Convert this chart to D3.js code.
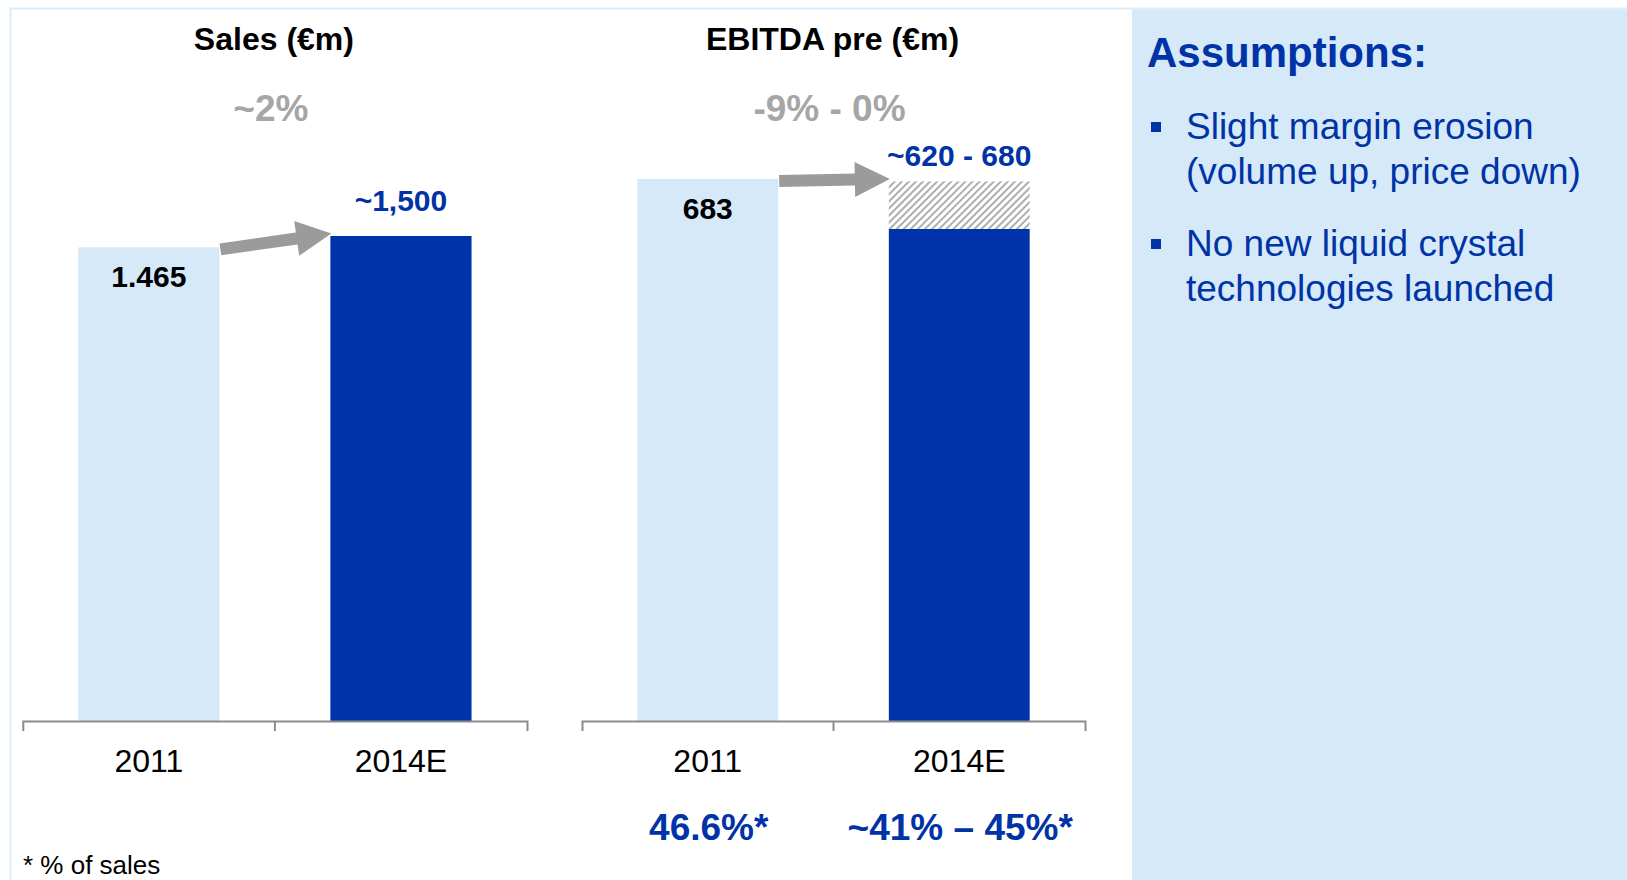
<!DOCTYPE html>
<html>
<head>
<meta charset="utf-8">
<script src="https://cdn.jsdelivr.net/npm/d3@7"></script>
<style>
  html, body { margin: 0; padding: 0; background: #ffffff; }
  svg { display: block; font-family: "Liberation Sans", Arial, Helvetica, sans-serif; }
</style>
</head>
<body>
<svg id="chart" width="1627" height="880"></svg>
<script>
// ---- data ----
const categories = ["2011", "2014E"];

const salesValues = [1465, 1500];
const salesLabels = ["1.465", "~1,500"];
const salesGrowth = "~2%";

const ebitdaValues = [683, 620];        // solid part
const ebitdaUpper = [null, 680];        // top of the forecast range
const ebitdaLabels = ["683", "~620 - 680"];
const ebitdaGrowth = "-9% - 0%";
const marginLabels = ["46.6%*", "~41% \u2013 45%*"];

const panelTitles = ["Sales (\u20acm)", "EBITDA pre (\u20acm)"];
const footnote = "* % of sales";

const assumptionsTitle = "Assumptions:";
const assumptionBullets = [
  ["Slight margin erosion", "(volume up, price down)"],
  ["No new liquid crystal", "technologies launched"]
];

// ---- styles ----
const LIGHT = "#d5e9f8";
const DARK = "#0033aa";
const TEXT_BLUE = "#0033a6";
const GREY_TEXT = "#a6a6a6";
const ARROW = "#9b9b9b";
const AXIS = "#8c8c8c";

const svg = d3.select("#chart");

// hatch pattern for the forecast range
const defs = svg.append("defs");
defs.append("pattern")
  .attr("id", "hatch")
  .attr("patternUnits", "userSpaceOnUse")
  .attr("width", 5)
  .attr("height", 10)
  .attr("patternTransform", "rotate(45)")
  .call(p => {
    p.append("rect").attr("width", 5).attr("height", 10).attr("fill", "#ffffff");
    p.append("line").attr("x1", 1).attr("x2", 1).attr("y1", 0).attr("y2", 10)
      .attr("stroke", "#9a9a9a").attr("stroke-width", 1.6);
  });

// frame and assumptions panel
svg.append("rect").attr("x", 10).attr("y", 7.5).attr("width", 1617).attr("height", 2).attr("fill", "#dcedfa");
svg.append("rect").attr("x", 9.5).attr("y", 7.5).attr("width", 2).attr("height", 872.5).attr("fill", "#dcedfa");
svg.append("rect").attr("x", 1132).attr("y", 9.5).attr("width", 495).attr("height", 870.5).attr("fill", LIGHT);

const axisY = 721;

function drawArrow(g, x0, y0, x1, y1) {
  const dx = x1 - x0, dy = y1 - y0;
  const L = Math.hypot(dx, dy);
  const ang = Math.atan2(dy, dx) * 180 / Math.PI;
  const hw = 6, headL = 35, headW = 17.5;
  const pts = [[0, -hw], [L - headL, -hw], [L - headL, -headW], [L, 0],
               [L - headL, headW], [L - headL, hw], [0, hw]];
  g.append("path")
    .attr("transform", `translate(${x0},${y0}) rotate(${ang})`)
    .attr("d", d3.line()(pts) + "Z")
    .attr("fill", ARROW);
}

function drawPanel(opts) {
  const g = svg.append("g");
  const x = d3.scaleBand().domain(categories).range(opts.xRange)
    .paddingInner(0.44).paddingOuter(0.22);
  const y = d3.scaleLinear().domain(opts.yDomain).range([axisY, opts.yTop]);
  const cx = d => x(d) + x.bandwidth() / 2;
  const mid = (opts.xRange[0] + opts.xRange[1]) / 2;

  // bars
  g.selectAll("rect.bar").data(categories).join("rect")
    .attr("class", "bar")
    .attr("x", d => x(d))
    .attr("width", x.bandwidth())
    .attr("y", (d, i) => y(opts.values[i]))
    .attr("height", (d, i) => axisY - y(opts.values[i]))
    .attr("fill", (d, i) => i === 0 ? LIGHT : DARK);

  // forecast range (hatched)
  if (opts.upper) {
    categories.forEach((d, i) => {
      if (opts.upper[i] == null) return;
      g.append("rect")
        .attr("x", x(d)).attr("width", x.bandwidth())
        .attr("y", y(opts.upper[i]))
        .attr("height", y(opts.values[i]) - y(opts.upper[i]))
        .attr("fill", "url(#hatch)");
    });
  }

  // axis
  const axis = d3.axisBottom(x).tickSize(0).tickSizeOuter(10).tickPadding(28);
  const ag = g.append("g").attr("transform", `translate(0,${axisY})`).call(axis);
  ag.select(".domain").attr("stroke", AXIS).attr("stroke-width", 2);
  ag.selectAll(".tick text").attr("font-size", 32).attr("fill", "#000")
    .attr("font-family", "'Liberation Sans', Arial, sans-serif");
  ag.append("line").attr("x1", mid).attr("x2", mid).attr("y1", 0).attr("y2", 10)
    .attr("stroke", AXIS).attr("stroke-width", 2);

  // title and growth label
  g.append("text").attr("x", mid - 1).attr("y", 50).attr("text-anchor", "middle")
    .attr("font-size", 32).attr("font-weight", "bold").attr("fill", "#000")
    .text(opts.title);
  g.append("text").attr("x", mid - 4).attr("y", 121).attr("text-anchor", "middle")
    .attr("font-size", 37).attr("font-weight", "bold").attr("fill", GREY_TEXT)
    .text(opts.growth);

  // value labels
  const top1 = y(opts.values[0]);
  const top2 = opts.upper && opts.upper[1] != null ? y(opts.upper[1]) : y(opts.values[1]);
  g.append("text").attr("x", cx(categories[0])).attr("y", top1 + 40)
    .attr("text-anchor", "middle").attr("font-size", 30).attr("font-weight", "bold")
    .attr("fill", "#000").text(opts.labels[0]);
  g.append("text").attr("x", cx(categories[1])).attr("y", top2 - opts.topLabelGap)
    .attr("text-anchor", "middle").attr("font-size", 30).attr("font-weight", "bold")
    .attr("fill", TEXT_BLUE).text(opts.labels[1]);

  // growth arrow between the bars
  drawArrow(g, x(categories[0]) + x.bandwidth() + 1, top1 + 2, x(categories[1]) + 1, top2 - 2.5);

  // margin labels under the axis
  if (opts.margins) {
    g.selectAll("text.margin").data(categories).join("text")
      .attr("class", "margin")
      .attr("x", d => cx(d) + 1).attr("y", 840).attr("text-anchor", "middle")
      .attr("font-size", 37).attr("font-weight", "bold").attr("fill", TEXT_BLUE)
      .text((d, i) => opts.margins[i]);
  }
}

drawPanel({
  xRange: [22.8, 527],
  yDomain: [0, 1500],
  yTop: 236,
  values: salesValues,
  labels: salesLabels,
  title: panelTitles[0],
  growth: salesGrowth,
  topLabelGap: 25
});

drawPanel({
  xRange: [582, 1085],
  yDomain: [0, 683],
  yTop: 179,
  values: ebitdaValues,
  upper: ebitdaUpper,
  labels: ebitdaLabels,
  title: panelTitles[1],
  growth: ebitdaGrowth,
  margins: marginLabels,
  topLabelGap: 15.5
});

// footnote
svg.append("text").attr("x", 23).attr("y", 874).attr("font-size", 26).attr("fill", "#000")
  .text(footnote);

// assumptions panel text
svg.append("text").attr("x", 1147).attr("y", 67).attr("font-size", 42).attr("font-weight", "bold")
  .attr("fill", TEXT_BLUE).text(assumptionsTitle);

const bulletTop = [139, 256];
assumptionBullets.forEach((lines, i) => {
  svg.append("rect").attr("x", 1151).attr("y", bulletTop[i] - 17).attr("width", 10).attr("height", 10)
    .attr("fill", TEXT_BLUE);
  lines.forEach((t, j) => {
    svg.append("text").attr("x", 1186).attr("y", bulletTop[i] + j * 44.5)
      .attr("font-size", 37).attr("fill", TEXT_BLUE).text(t);
  });
});
</script>
</body>
</html>
